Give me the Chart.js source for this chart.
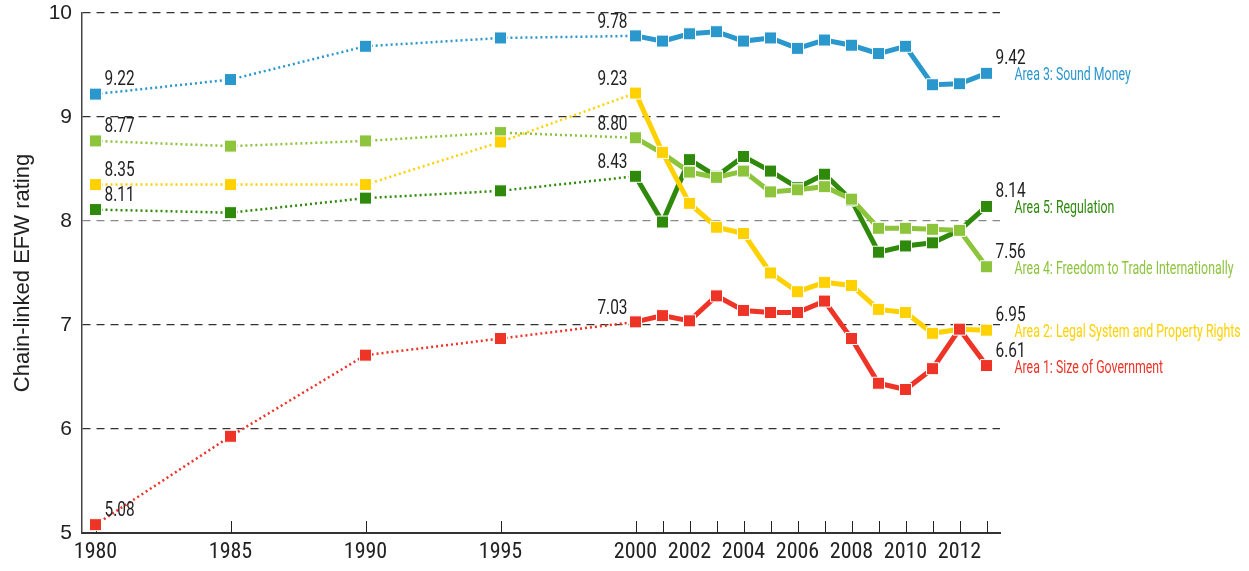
<!DOCTYPE html>
<html>
<head>
<meta charset="utf-8">
<script src="https://cdn.jsdelivr.net/npm/chart.js@4.4.0/dist/chart.umd.min.js"></script>
<style>
  html, body { margin: 0; padding: 0; background: #fff; }
  #wrap { width: 1249px; height: 571px; }
</style>
</head>
<body>
<div id="wrap"><canvas id="chart"></canvas></div>
<script>
// data
const years = [1980, 1985, 1990, 1995, 2000, 2001, 2002, 2003, 2004, 2005, 2006, 2007, 2008, 2009, 2010, 2011, 2012, 2013];
const area3 = [9.22, 9.36, 9.68, 9.76, 9.78, 9.73, 9.80, 9.82, 9.73, 9.76, 9.66, 9.74, 9.69, 9.61, 9.68, 9.31, 9.32, 9.42];
const area1 = [5.08, 5.93, 6.71, 6.87, 7.03, 7.09, 7.04, 7.28, 7.14, 7.12, 7.12, 7.23, 6.87, 6.44, 6.38, 6.58, 6.96, 6.61];
const area2 = [8.35, 8.35, 8.35, 8.76, 9.23, 8.66, 8.17, 7.94, 7.88, 7.50, 7.32, 7.41, 7.38, 7.15, 7.12, 6.92, 6.96, 6.95];
const area4 = [8.77, 8.72, 8.77, 8.85, 8.80, 8.65, 8.47, 8.42, 8.48, 8.28, 8.30, 8.33, 8.21, 7.93, 7.93, 7.92, 7.91, 7.56];
const area5 = [8.11, 8.08, 8.22, 8.29, 8.43, 7.99, 8.59, 8.43, 8.62, 8.48, 8.32, 8.45, 8.20, 7.70, 7.76, 7.79, 7.91, 8.14];

const seriesNames = ["Area 3: Sound Money", "Area 1: Size of Government", "Area 2: Legal System and Property Rights",
  "Area 4: Freedom to Trade Internationally", "Area 5: Regulation"];
const seriesColors = ["#2A98CC", "#EE3327", "#FFD100", "#8CC43C", "#2F8A0C"];
const seriesValues = [area3, area1, area2, area4, area5];

const tickYears = [1980, 1985, 1990, 1995, 2000, 2001, 2002, 2003, 2004, 2005, 2006, 2007, 2008, 2009, 2010, 2011, 2012, 2013];
const tickLabels = [1980, 1985, 1990, 1995, 2000, 2002, 2004, 2006, 2008, 2010, 2012];
const labelledYears = [1980, 2000, 2013];

const COND = '"Roboto Condensed", "Liberation Sans Narrow", "DejaVu Sans Condensed", sans-serif';

// condensed look: squeeze a regular font horizontally
function squeezeText(ctx, txt, x, y, sx, align) {
  const w = ctx.measureText(txt).width * sx;
  let left = x;
  if (align === 'right') left = x - w;
  ctx.save();
  ctx.translate(left, y);
  ctx.scale(sx, 1);
  ctx.textAlign = 'left';
  ctx.fillText(txt, 0, 0);
  ctx.restore();
}

const datasets = seriesValues.map((vals, i) => ({
  label: seriesNames[i],
  data: years.map((y, j) => ({ x: y, y: vals[j] })),
  borderColor: seriesColors[i],
  backgroundColor: seriesColors[i],
  borderWidth: 5,
  pointStyle: 'rect',
  pointRadius: 8.5,
  pointBorderWidth: 1,
  pointBorderColor: '#fff',
  pointBackgroundColor: seriesColors[i],
  clip: false,
  tension: 0,
  segment: {
    borderDash: c => c.p1.parsed.x <= 2000 ? [2, 3] : undefined,
    borderWidth: c => c.p1.parsed.x <= 2000 ? 2.5 : 5
  }
}));

// tick marks inside + value labels + series names
const labelPlugin = {
  id: 'labelPlugin',
  beforeDatasetsDraw(chart) {
    const ctx = chart.ctx, xs = chart.scales.x, bottom = chart.chartArea.bottom;
    ctx.save();
    ctx.strokeStyle = '#222';
    ctx.lineWidth = 1;
    tickYears.forEach(t => {
      const x = Math.round(xs.getPixelForValue(t)) + 0.5;
      ctx.beginPath();
      ctx.moveTo(x, bottom);
      ctx.lineTo(x, bottom - 12);
      ctx.stroke();
    });
    ctx.restore();
  },
  afterDatasetsDraw(chart) {
    const ctx = chart.ctx;
    ctx.save();
    chart.data.datasets.forEach((ds, i) => {
      const meta = chart.getDatasetMeta(i);
      ctx.textBaseline = 'alphabetic';
      labelledYears.forEach(yr => {
        const idx = years.indexOf(yr);
        const pt = meta.data[idx];
        ctx.fillStyle = '#222';
        ctx.font = '19.5px Roboto, sans-serif';
        const txt = seriesValues[i][idx].toFixed(2);
        if (yr === 2000) squeezeText(ctx, txt, pt.x - 8, pt.y - 8, 0.79, 'right');
        else squeezeText(ctx, txt, pt.x + 9, pt.y - 9, 0.79, 'left');
      });
      const last = meta.data[years.length - 1];
      ctx.fillStyle = seriesColors[i];
      ctx.font = '18px Roboto, sans-serif';
      squeezeText(ctx, seriesNames[i], last.x + 28, last.y + 7, 0.685, 'left');
    });
    ctx.restore();
  }
};

new Chart(document.getElementById('chart'), {
  type: 'line',
  data: { datasets },
  plugins: [labelPlugin],
  options: {
    responsive: true,
    maintainAspectRatio: false,
    animation: false,
    devicePixelRatio: 1,
    layout: { padding: { left: 0, right: 249, top: 13, bottom: 0 } },
    plugins: { legend: { display: false }, tooltip: { enabled: false } },
    scales: {
      x: {
        type: 'linear',
        min: 1979.5,
        max: 2013.5,
        afterBuildTicks: s => { s.ticks = tickYears.map(v => ({ value: v })); },
        afterFit: s => { s.height = 38; s.paddingLeft = 0; s.paddingRight = 0; },
        grid: { display: false, drawTicks: false },
        border: { display: true, color: '#333', width: 2 },
        ticks: {
          autoSkip: false,
          maxRotation: 0,
          padding: 6,
          color: '#222',
          font: { family: COND, size: 22 },
          callback: v => tickLabels.includes(v) ? String(v) : ''
        }
      },
      y: {
        min: 5,
        max: 10,
        afterFit: s => { s.width = 82; s.paddingTop = 0; s.paddingBottom = 0; },
        grid: {
          drawTicks: false,
          color: c => c.tick.value === 8 ? '#8a8a8a' : '#333',
          lineWidth: 1.2
        },
        border: { display: true, color: '#444', width: 1.5, dash: [8, 6] },
        ticks: {
          stepSize: 1,
          padding: 10,
          color: '#222',
          font: { family: '"Liberation Sans", Arial, sans-serif', size: 21 }
        },
        title: {
          display: true,
          text: 'Chain-linked EFW rating',
          color: '#222',
          font: { family: '"Liberation Sans", Arial, sans-serif', size: 22 },
          padding: { top: 10, bottom: 0 }
        }
      }
    }
  }
});
</script>
</body>
</html>
